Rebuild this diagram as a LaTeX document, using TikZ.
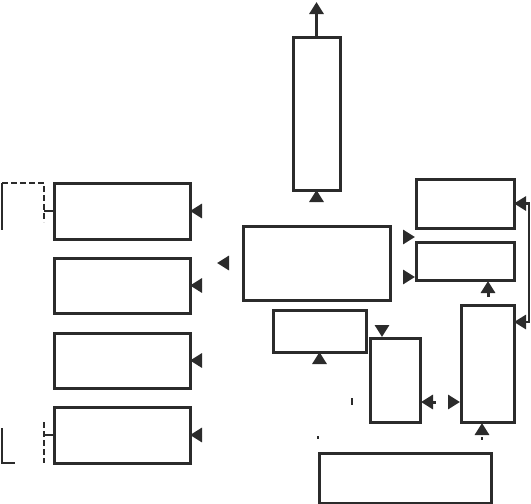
\documentclass[tikz,border=0pt]{standalone}
\usepackage{tikz}
\usetikzlibrary{arrows.meta,positioning,calc}
\definecolor{Ink}{HTML}{2B2B2B}

\begin{document}
\begin{tikzpicture}[x=1pt,y=-1pt,
    blk/.style={draw=Ink,line width=3pt,inner sep=0pt,outer sep=0pt},
    arr/.style={-{Triangle[length=12pt,width=14pt]},line width=3pt,Ink},
    both/.style={{Triangle[length=12pt,width=14pt]}-{Triangle[length=12pt,width=14pt]},line width=2.8pt,Ink},
    dsh/.style={Ink,line width=2.5pt,dash pattern=on 6pt off 3pt},
    thin/.style={Ink,line width=1.5pt}
  ]
    \useasboundingbox (0,0) rectangle (531,504);
    % boxes
    \node[blk,minimum width=47pt,minimum height=153pt] (top) at (316.5,113.5) {};
    \node[blk,minimum width=147pt,minimum height=74pt] (ctr) at (316.5,263) {};
    \node[blk,minimum width=136pt,minimum height=56pt] (L1) at (122,211) {};
    \node[blk,minimum width=136pt,minimum height=55pt] (L2) at (122,285.5) {};
    \node[blk,minimum width=136pt,minimum height=55pt] (L3) at (122,360.5) {};
    \node[blk,minimum width=136pt,minimum height=56pt] (L4) at (122,435) {};
    \node[blk,minimum width=98pt,minimum height=49pt] (R1) at (465,203.5) {};
    \node[blk,minimum width=98pt,minimum height=38pt] (R2) at (465,261) {};
    \node[blk,minimum width=53pt,minimum height=117pt] (R3) at (487.5,363.5) {};
    \node[blk,minimum width=93pt,minimum height=42pt] (mid) at (319.5,331) {};
    \node[blk,minimum width=50pt,minimum height=84pt] (nar) at (395,380) {};
    \node[blk,minimum width=172pt,minimum height=50pt] (bot) at (405,478) {};

    % free ends
    \coordinate (out) at (316.5,2);
    \coordinate (lft) at (217,263);
    \coordinate (gap) at (415,237);
    \coordinate (r2in) at (415,277);
    \coordinate (narin) at (382,337);
    \coordinate (r3in) at (R3.east |- 0,322);
    \coordinate (narout) at (421,402);
    \coordinate (r3side) at (460,402);

    % connectors
    \draw[arr] (top.north) -- (out);
    \draw[arr] ($(top.south)+(0,12)$) -- (top.south);
    \draw[arr,shorten <=14pt] (ctr.west) -- (lft);
    \foreach \b in {L1,L2,L3,L4}\draw[arr]([xshift=12pt]\b.east)--(\b.east);
    \foreach \c in {gap,r2in}\draw[arr]([xshift=-12pt]\c)--(\c);
    \draw[arr] (488,297) -- (488,281);
    \draw[both] (R1.east) -- ++(15,0) |- (r3in);
    \draw[arr] ([yshift=12pt]narin) -- (narin);
    \draw[arr] ($(mid.south)+(0,12)$) -- (mid.south);
    \draw[arr] ([xshift=15pt]narout) -- (narout);
    \draw[arr] ([xshift=-12pt]r3side) -- (r3side);
    \draw[arr] (482,435) -- (482,423);

    % bits of broken lines
    \draw[thin] (352,398) -- (352,405);
    \draw[thin] (318,436) -- (318,439);
    \draw[thin] (482,437) -- (482,440);

    % left brackets
    \draw[dsh] (2,183) -- (44,183) -- (44,222);
    \draw[thin] (2,183) -- (2,230);
    \draw[Ink,line width=2.5pt] (44,211) -- (L1.west);
    \draw[thin] (2,428) -- (2,463) -- (15,463);
    \draw[dsh] (44,422) -- (44,463);
    \draw[Ink,line width=2.5pt] (44,435) -- (L4.west);
\end{tikzpicture}
\end{document}
